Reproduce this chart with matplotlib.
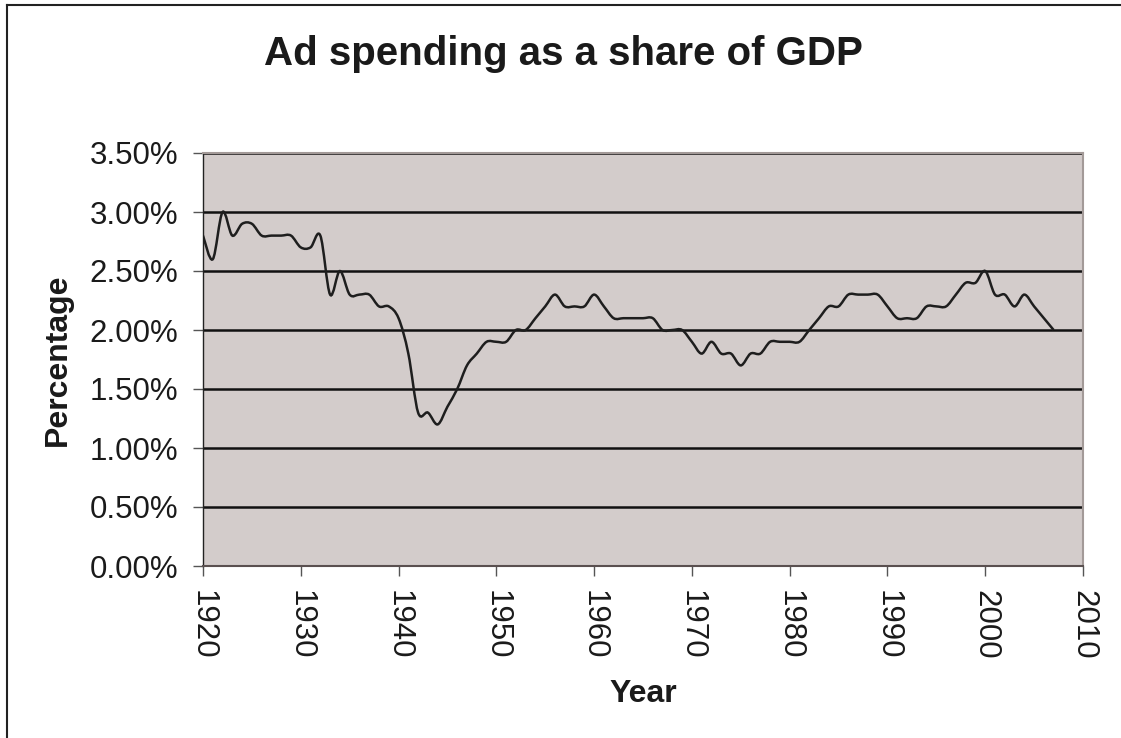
import numpy as np
import matplotlib
matplotlib.use("Agg")
import matplotlib.pyplot as plt
from matplotlib.path import Path
from matplotlib.patches import PathPatch
from matplotlib.lines import Line2D
from matplotlib.ticker import FuncFormatter, MultipleLocator

plt.rcParams['font.family'] = ['Liberation Sans', 'DejaVu Sans']

# data (percent of GDP, one value per year)
years = list(range(1920, 2008))
share = [2.8, 2.6, 3.0, 2.8, 2.9, 2.9, 2.8, 2.8, 2.8, 2.8,
         2.7, 2.7, 2.8, 2.3, 2.5, 2.3, 2.3, 2.3, 2.2, 2.2,
         2.1, 1.8, 1.3, 1.3, 1.2, 1.35, 1.5, 1.7, 1.8, 1.9,
         1.9, 1.9, 2.0, 2.0, 2.1, 2.2, 2.3, 2.2, 2.2, 2.2,
         2.3, 2.2, 2.1, 2.1, 2.1, 2.1, 2.1, 2.0, 2.0, 2.0,
         1.9, 1.8, 1.9, 1.8, 1.8, 1.7, 1.8, 1.8, 1.9, 1.9,
         1.9, 1.9, 2.0, 2.1, 2.2, 2.2, 2.3, 2.3, 2.3, 2.3,
         2.2, 2.1, 2.1, 2.1, 2.2, 2.2, 2.2, 2.3, 2.4, 2.4,
         2.5, 2.3, 2.3, 2.2, 2.3, 2.2, 2.1, 2.0]

title = "Ad spending as a share of GDP"
xlabel = "Year"
ylabel = "Percentage"


#excel style smoothed line: bezier segments with control points at 1/6 of the neighbour chord
def smooth_path(x, y):
    x = np.asarray(x, float)
    y = np.asarray(y, float)
    n = len(x)
    verts = [(x[0], y[0])]
    codes = [Path.MOVETO]
    for i in range(n - 1):
        i0 = max(i - 1, 0)
        i3 = min(i + 2, n - 1)
        c1 = (x[i] + (x[i + 1] - x[i0]) / 6, y[i] + (y[i + 1] - y[i0]) / 6)
        c2 = (x[i + 1] - (x[i3] - x[i]) / 6, y[i + 1] - (y[i3] - y[i]) / 6)
        verts += [c1, c2, (x[i + 1], y[i + 1])]
        codes += [Path.CURVE4] * 3
    return Path(verts, codes)


fig = plt.figure(figsize=(11.21, 7.38), dpi=100)
ax = fig.add_axes([203 / 1121, 172 / 738, 880 / 1121, 413 / 738])
ax.set_facecolor('#d3cccb')

ax.set_xlim(1920, 2010)
ax.set_ylim(0, 3.5)
ax.xaxis.set_major_locator(MultipleLocator(10))
ax.yaxis.set_major_locator(MultipleLocator(0.5))
ax.yaxis.set_major_formatter(FuncFormatter(lambda v, p: "%.2f%%" % v))

ax.grid(axis='y', color='#111111', linewidth=1.8)
ax.set_axisbelow(True)

patch = PathPatch(smooth_path(years, share), facecolor='none',
                  edgecolor='#1e1e1e', linewidth=1.8, zorder=3)
ax.add_patch(patch)

for s in ['top', 'right']:
    ax.spines[s].set_color('#a39a98')
    ax.spines[s].set_linewidth(1.5)
ax.spines['left'].set_color('#222222')
ax.spines['left'].set_linewidth(1.0)
ax.spines['bottom'].set_color('#5a5050')
ax.spines['bottom'].set_linewidth(1.5)

ax.tick_params(axis='y', direction='out', length=7, width=1, color='#555555',
               labelsize=22.5, pad=11, labelcolor='#1a1a1a')
ax.tick_params(axis='x', direction='out', length=7, width=1, color='#555555',
               labelsize=22.5, pad=10, labelcolor='#1a1a1a', labelrotation=270)

ax.set_xlabel(xlabel, fontsize=23, fontweight='bold', color='#1a1a1a', labelpad=14)
ax.set_ylabel(ylabel, fontsize=23, fontweight='bold', color='#1a1a1a', labelpad=12)

fig.text(0.5 + 3 / 1121, 1 - 54 / 738, title, ha='center', va='center',
         fontsize=29, fontweight='bold', color='#1a1a1a')

# outer frame of the chart (only left and top edges are visible)
fig.add_artist(Line2D([6.5 / 1121, 6.5 / 1121], [0, 1 - 5 / 738], transform=fig.transFigure,
                      color='#222222', linewidth=1.5))
fig.add_artist(Line2D([6.5 / 1121, 1], [1 - 5 / 738, 1 - 5 / 738], transform=fig.transFigure,
                      color='#222222', linewidth=1.5))

fig.savefig('out.png', dpi=100, facecolor='white')
